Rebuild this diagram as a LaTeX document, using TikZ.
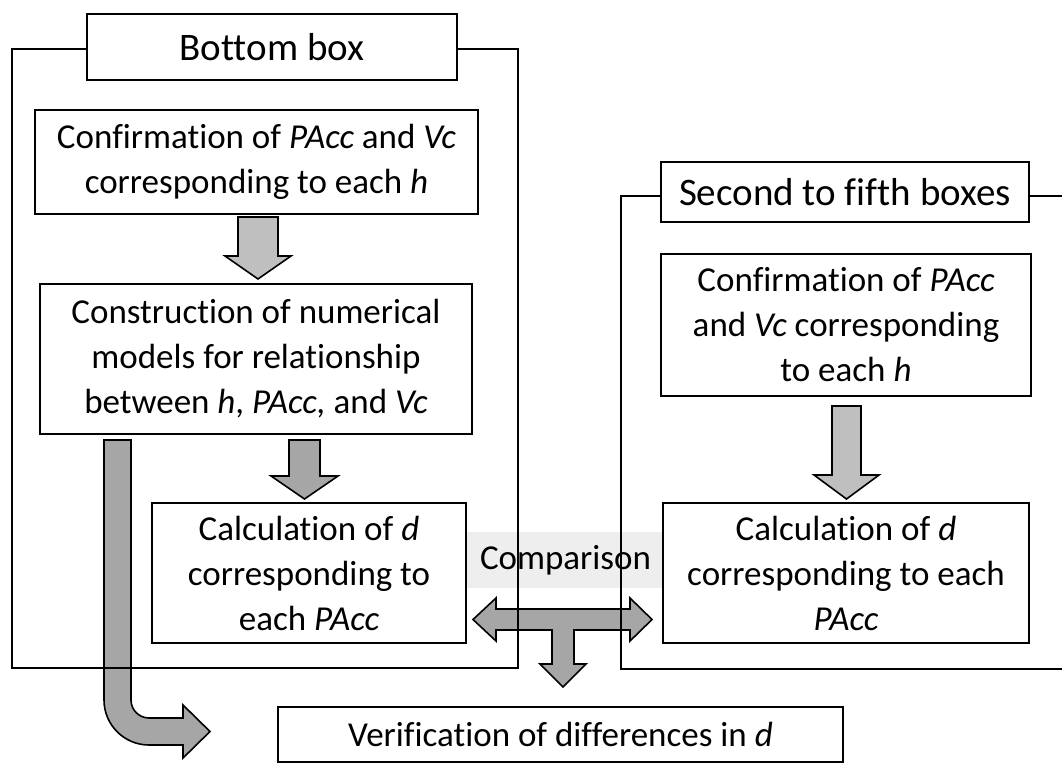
\documentclass[tikz,border=0pt]{standalone}
\usepackage{fontspec}
\setmainfont{Carlito}[Ligatures=NoCommon]
\definecolor{arrowlight}{RGB}{191,191,191}
\definecolor{arrowdark}{RGB}{166,166,166}
\definecolor{labelgray}{RGB}{232,232,232}
\usetikzlibrary{positioning, calc}
\tikzset{
  stepbox/.style={rectangle, draw=black, fill=white, line width=1.6pt, align=center, inner sep=0pt, font=\fontsize{35}{45}\selectfont},
  titlebox/.style={stepbox, line width=2pt, font=\fontsize{39}{45}\selectfont},
  framebox/.style={line width=2pt},
  lightarrow/.style={draw=black, fill=arrowlight, line width=1.6pt, line join=miter},
  darkarrow/.style={draw=black, fill=arrowdark, line width=1.6pt, line join=miter},
  complabel/.style={fill=labelgray, fill opacity=0.75, text opacity=1, inner sep=0pt, font=\fontsize{35}{45}\selectfont}
}

\begin{document}
\begin{tikzpicture}[x=1pt, y=-1pt]
  \useasboundingbox (0,0) rectangle (1062,763);

  % Comparison label (behind the lines)
  \node (comp) [complabel, minimum width=199pt, minimum height=56pt] at (565.5,560) {Comparison};

  % Block arrows
  \draw [lightarrow] (238,217) -- (278,217) -- (278,256) -- (291,256) -- (258,279)
    -- (225,256) -- (238,256) -- cycle;
  \draw [darkarrow] (289,440) -- (320,440) -- (320,476) -- (338,476) -- (304.5,499)
    -- (271,476) -- (289,476) -- cycle;
  \draw [lightarrow] (832,406) -- (861,406) -- (861,475) -- (879,475) -- (846.5,499)
    -- (814,475) -- (832,475) -- cycle;
  % bent arrow to the verification
  \draw [darkarrow] (104,440) -- (131,440) -- (131,700)
    .. controls (131,709.9) and (139.1,718) .. (149,718) -- (183,718) -- (183,705)
    -- (210,731.5) -- (183,758) -- (183,745) -- (149,745)
    .. controls (124.2,745) and (104,724.8) .. (104,700) -- cycle;
  % comparison arrow
  \draw [darkarrow] (473,619.5) -- (496,598) -- (496,609) -- (630,609) -- (630,598)
    -- (652,619.5) -- (630,641) -- (630,630) -- (574,630) -- (574,664) -- (586,664)
    -- (563,687) -- (540,664) -- (552,664) -- (552,630) -- (496,630) -- (496,641) -- cycle;

  % Frames
  \draw [framebox] (87,49) -- (12,49) -- (12,668) -- (518,668) -- (518,49) -- (457,49);
  \draw [framebox] (661,196) -- (621,196) -- (621,669) -- (1070,669);
  \draw [framebox] (1029,196) -- (1070,196);

  % Bottom box
  \node (titleL) [titlebox, minimum width=370pt, minimum height=66pt] at (272,47) {Bottom box};
  \node (confL) [stepbox, minimum width=443pt, minimum height=104pt] at (256.5,162)
    {Confirmation of \textit{PAcc} and \textit{Vc}\\corresponding to each \textit{h}};
  \node (consL) [stepbox, minimum width=432pt, minimum height=150pt] at (256,359)
    {Construction of numerical\\models for relationship\\between \textit{h}, \textit{PAcc,} and \textit{Vc}};
  \node (calcL) [stepbox, minimum width=314pt, minimum height=140pt] at (309,573)
    {Calculation of \textit{d}\\corresponding to\\each \textit{PAcc}};

  % Second to fifth boxes
  \node (titleR) [titlebox, minimum width=368pt, minimum height=60pt] at (845,192) {Second to fifth boxes};
  \node (confR) [stepbox, minimum width=370pt, minimum height=142pt] at (846,325)
    {Confirmation of \textit{PAcc}\\and \textit{Vc} corresponding\\to each \textit{h}};
  \node (calcR) [stepbox, minimum width=366pt, minimum height=140pt] at (846,573)
    {Calculation of \textit{d}\\corresponding to each\\\textit{PAcc}};

  % Verification
  \node (verif) [stepbox, minimum width=565pt, minimum height=55pt] at (560.5,734.5)
    {Verification of differences in \textit{d}};
\end{tikzpicture}
\end{document}
